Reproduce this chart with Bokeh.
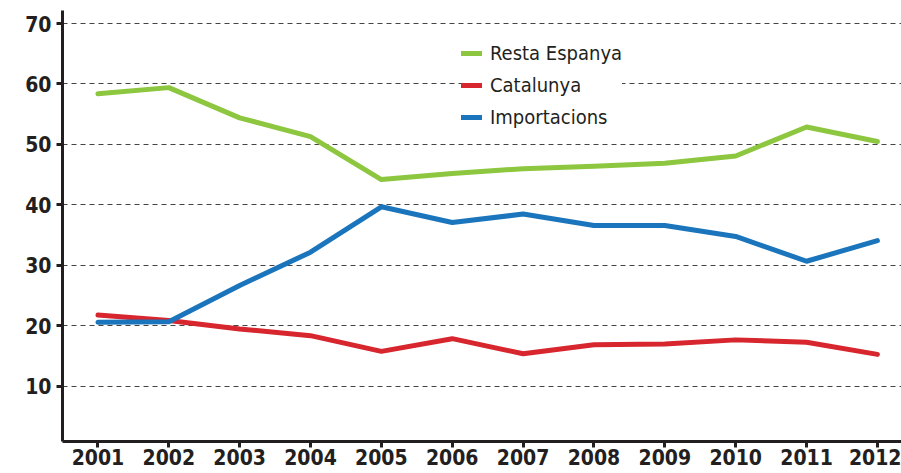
from bokeh.plotting import figure
from bokeh.models import Range1d, FixedTicker, Legend, LegendItem
from bokeh.embed import file_html
from bokeh.resources import INLINE

years = [2001, 2002, 2003, 2004, 2005, 2006, 2007, 2008, 2009, 2010, 2011, 2012]
resta_espanya = [58.4, 59.4, 54.4, 51.3, 44.2, 45.2, 46.0, 46.4, 46.9, 48.1, 52.9, 50.5]
catalunya = [21.8, 20.9, 19.5, 18.4, 15.8, 17.9, 15.4, 16.9, 17.0, 17.7, 17.3, 15.3]
importacions = [20.6, 20.7, 26.7, 32.2, 39.7, 37.1, 38.5, 36.6, 36.6, 34.8, 30.7, 34.1]
y_ticks = [10, 20, 30, 40, 50, 60, 70]

names = ["Resta Espanya", "Catalunya", "Importacions"]
colors = ["#8dc63f", "#d7262e", "#1a75bc"]
series = [resta_espanya, catalunya, importacions]

FONT = "DejaVu Sans Condensed"
AXIS_COLOR = "#231f20"

p = figure(width=901, height=473, output_backend="svg", toolbar_location=None,
           x_range=Range1d(2000.5, 2012.34), y_range=Range1d(0.9, 72.15),
           min_border_left=62, min_border_right=0, min_border_top=10, min_border_bottom=32)
p.outline_line_color = None
p.xgrid.grid_line_color = None
p.ygrid.grid_line_color = "#444444"
p.ygrid.grid_line_dash = "5 4"
p.ygrid.grid_line_width = 1
p.ygrid.ticker = FixedTicker(ticks=y_ticks)

p.yaxis.ticker = FixedTicker(ticks=y_ticks)
p.xaxis.ticker = FixedTicker(ticks=years)
for ax in (p.xaxis, p.yaxis):
    ax.axis_line_color = AXIS_COLOR
    ax.axis_line_width = 3
    ax.major_tick_line_color = AXIS_COLOR
    ax.major_tick_line_width = 3
    ax.major_tick_in = 0
    ax.major_tick_out = 6
    ax.minor_tick_line_color = None
    ax.major_label_text_font = FONT
    ax.major_label_text_font_style = "bold"
    ax.major_label_text_font_size = "21px"
    ax.major_label_text_color = AXIS_COLOR
p.xaxis.major_label_standoff = 1
p.yaxis.major_label_standoff = 5

items = []
for name, col, vals in zip(names, colors, series):
    r = p.line(years, vals, line_color=col, line_width=5, line_join="round", line_cap="round")
    items.append(LegendItem(label=name, renderers=[r]))

legend = Legend(items=items, location=(399, 310))
legend.background_fill_color = "white"
legend.background_fill_alpha = 1.0
legend.border_line_color = None
legend.label_text_font = FONT
legend.label_text_font_size = "20px"
legend.label_text_color = AXIS_COLOR
legend.glyph_width = 21
legend.glyph_height = 28
legend.label_height = 28
legend.spacing = 4
legend.padding = 5
legend.label_standoff = 8
legend.margin = 0
p.add_layout(legend)

open("out.html", "w").write(file_html(p, INLINE))
